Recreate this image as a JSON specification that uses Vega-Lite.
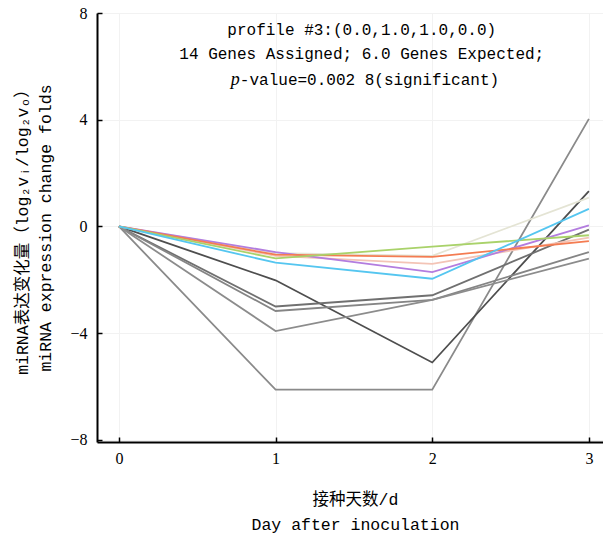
{
  "$schema": "https://vega.github.io/schema/vega-lite/v6.json",
  "width": 506,
  "height": 429,
  "autosize": "none",
  "padding": {"left": 97, "top": 13, "right": 0, "bottom": 92},
  "background": "white",
  "config": {"view": {"stroke": null}},
  "layer": [
    {
      "data": {
        "values": [
          {"gene": "E", "day": 0, "value": 0}, {"gene": "E", "day": 1, "value": -6.12}, {"gene": "E", "day": 2, "value": -6.12}, {"gene": "E", "day": 3, "value": 4.03},
          {"gene": "D", "day": 0, "value": 0}, {"gene": "D", "day": 1, "value": -2.02}, {"gene": "D", "day": 2, "value": -5.1}, {"gene": "D", "day": 3, "value": 1.32},
          {"gene": "A", "day": 0, "value": 0}, {"gene": "A", "day": 1, "value": -3.0}, {"gene": "A", "day": 2, "value": -2.58}, {"gene": "A", "day": 3, "value": -0.12},
          {"gene": "B", "day": 0, "value": 0}, {"gene": "B", "day": 1, "value": -3.17}, {"gene": "B", "day": 2, "value": -2.75}, {"gene": "B", "day": 3, "value": -0.96},
          {"gene": "C", "day": 0, "value": 0}, {"gene": "C", "day": 1, "value": -3.92}, {"gene": "C", "day": 2, "value": -2.75}, {"gene": "C", "day": 3, "value": -1.21},
          {"gene": "beige", "day": 0, "value": 0}, {"gene": "beige", "day": 1, "value": -1.0}, {"gene": "beige", "day": 2, "value": -1.1}, {"gene": "beige", "day": 3, "value": 1.08},
          {"gene": "salmon", "day": 0, "value": 0}, {"gene": "salmon", "day": 1, "value": -1.1}, {"gene": "salmon", "day": 2, "value": -1.4}, {"gene": "salmon", "day": 3, "value": -0.42},
          {"gene": "purple", "day": 0, "value": 0}, {"gene": "purple", "day": 1, "value": -0.96}, {"gene": "purple", "day": 2, "value": -1.71}, {"gene": "purple", "day": 3, "value": 0.04},
          {"gene": "orange", "day": 0, "value": 0}, {"gene": "orange", "day": 1, "value": -1.06}, {"gene": "orange", "day": 2, "value": -1.14}, {"gene": "orange", "day": 3, "value": -0.55},
          {"gene": "green", "day": 0, "value": 0}, {"gene": "green", "day": 1, "value": -1.2}, {"gene": "green", "day": 2, "value": -0.76}, {"gene": "green", "day": 3, "value": -0.33},
          {"gene": "cyan", "day": 0, "value": 0}, {"gene": "cyan", "day": 1, "value": -1.36}, {"gene": "cyan", "day": 2, "value": -1.96}, {"gene": "cyan", "day": 3, "value": 0.66}
        ]
      },
      "mark": {"type": "line", "strokeWidth": 1.8, "clip": true},
      "encoding": {
        "x": {
          "field": "day", "type": "quantitative",
          "scale": {"domain": [-0.14, 3.09], "nice": false, "zero": false},
          "axis": {
            "values": [0, 1, 2, 3], "format": "d",
            "title": ["接种天数/d", "Day after inoculation"],
            "titleFont": "Liberation Mono, Noto Sans CJK SC", "titleFontSize": 16.5, "titleFontWeight": "normal",
            "titleLineHeight": 25, "titlePadding": 25, "titleColor": "black", "titleX": 258,
            "labelFont": "Liberation Serif, serif", "labelFontSize": 16, "labelColor": "black", "labelPadding": 13,
            "tickSize": -5, "tickColor": "black", "tickWidth": 1.5,
            "domainColor": "black", "domainWidth": 2,
            "grid": true, "gridColor": "#f2f2f2"
          }
        },
        "y": {
          "field": "value", "type": "quantitative",
          "scale": {"domain": [-8.08, 8], "nice": false, "zero": false},
          "axis": {
            "values": [-8, -4, 0, 4, 8], "format": "d",
            "title": ["miRNA表达变化量（log₂vᵢ/log₂vₒ）", "miRNA expression change folds"],
            "titleFont": "Liberation Mono, Noto Sans CJK SC", "titleFontSize": 16.5, "titleFontWeight": "normal",
            "titleLineHeight": 23, "titlePadding": 16, "titleColor": "black",
            "labelFont": "Liberation Serif, serif", "labelFontSize": 16, "labelColor": "black", "labelPadding": 15,
            "tickSize": -5, "tickColor": "black", "tickWidth": 1.5,
            "domainColor": "black", "domainWidth": 2,
            "grid": true, "gridColor": "#f2f2f2"
          }
        },
        "color": {
          "field": "gene", "type": "nominal", "legend": null,
          "scale": {
            "domain": ["E", "D", "A", "B", "C", "beige", "salmon", "purple", "orange", "green", "cyan"],
            "range": ["#8a8a8a", "#4e4e4e", "#707070", "#858585", "#8c8c8c", "#e4e4d4", "#f3c4b6", "#b37ddf", "#f47c52", "#a9d26a", "#55c6f0"]
          }
        }
      }
    },
    {
      "data": {"values": [{"line": "profile #3:(0.0,1.0,1.0,0.0)", "px": 1.55, "py": 7.38}, {"line": "14 Genes Assigned; 6.0 Genes Expected;", "px": 1.55, "py": 6.45}]},
      "mark": {"type": "text", "font": "Liberation Mono", "fontSize": 16, "fontWeight": "normal", "align": "center", "baseline": "middle", "fill": "black"},
      "encoding": {
        "text": {"field": "line"},
        "x": {"field": "px", "type": "quantitative"},
        "y": {"field": "py", "type": "quantitative"}
      }
    },
    {
      "data": {"values": [{"line": "p", "px": 0.772, "py": 5.47}]},
      "mark": {"type": "text", "font": "Liberation Serif", "fontStyle": "italic", "fontSize": 18, "fontWeight": "normal", "align": "right", "baseline": "middle", "fill": "black"},
      "encoding": {
        "text": {"field": "line"},
        "x": {"field": "px", "type": "quantitative"},
        "y": {"field": "py", "type": "quantitative"}
      }
    },
    {
      "data": {"values": [{"line": "-value=0.002 8(significant)", "px": 0.772, "py": 5.47}]},
      "mark": {"type": "text", "font": "Liberation Mono", "fontSize": 16, "fontWeight": "normal", "align": "left", "baseline": "middle", "fill": "black"},
      "encoding": {
        "text": {"field": "line"},
        "x": {"field": "px", "type": "quantitative"},
        "y": {"field": "py", "type": "quantitative"}
      }
    }
  ]
}
